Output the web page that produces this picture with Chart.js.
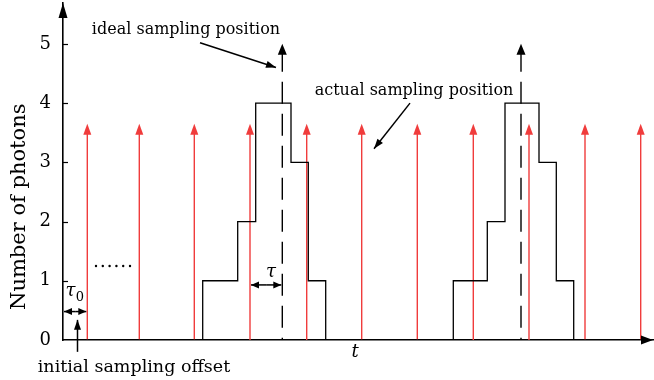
<!DOCTYPE html>
<html>
<head>
<meta charset="utf-8">
<script src="https://cdn.jsdelivr.net/npm/chart.js@4/dist/chart.umd.min.js"></script>
<style>
  html, body { margin: 0; padding: 0; background: #fff; }
</style>
</head>
<body>
<canvas id="myChart" width="654" height="380"></canvas>
<script>
// photon count steps: time of each edge and the level after it
var stepEdges = [13.97, 17.47, 19.27, 22.8, 24.53, 26.27, 39.03, 42.43, 44.2, 47.6, 49.33, 51.07];
var stepLevels = [1, 2, 4, 3, 1, 0, 1, 2, 4, 3, 1, 0];

// actual sampling positions (red arrows)
var sampleTimes = [2.43, 7.63, 13.13, 18.7, 24.37, 29.87, 35.43, 41.03, 46.6, 52.2, 57.77];
var sampleTop = 3.65;

// ideal sampling positions (dashed arrows)
var idealTimes = [21.93, 45.8];
var idealTop = 5;

var yTicks = [0, 1, 2, 3, 4, 5];
var tMax = 59;
var yMax = 5.69;

var SERIF = "'DejaVu Serif', serif";
var RED = 'rgb(240, 60, 60)';

var stepData = [{ x: 0, y: 0 }];
stepEdges.forEach(function (e, i) { stepData.push({ x: e, y: stepLevels[i] }); });
stepData.push({ x: tMax, y: 0 });

var datasets = [{
    label: 'photons',
    data: stepData,
    stepped: 'before',
    borderColor: '#000',
    borderWidth: 1.3,
    pointRadius: 0,
    fill: false
}];
sampleTimes.forEach(function (t) {
    datasets.push({
        data: [{ x: t, y: 0 }, { x: t, y: sampleTop - 0.1 }],
        borderColor: RED,
        borderWidth: 1.4,
        pointRadius: 0
    });
});
idealTimes.forEach(function (t) {
    datasets.push({
        data: [{ x: t, y: idealTop - 0.1 }, { x: t, y: 0 }],
        borderColor: '#000',
        borderWidth: 1.4,
        borderDash: [22, 10],
        pointRadius: 0
    });
});

function head(ctx, x, y, dx, dy, len, hw, color) {
    var n = Math.sqrt(dx * dx + dy * dy);
    dx /= n; dy /= n;
    ctx.beginPath();
    ctx.moveTo(x, y);
    ctx.lineTo(x - dx * len - dy * hw, y - dy * len + dx * hw);
    ctx.lineTo(x - dx * len + dy * hw, y - dy * len - dx * hw);
    ctx.closePath();
    ctx.fillStyle = color;
    ctx.fill();
}

function arrow(ctx, x1, y1, x2, y2, len, hw) {
    ctx.beginPath();
    ctx.moveTo(x1, y1);
    ctx.lineTo(x2, y2);
    ctx.strokeStyle = '#000';
    ctx.lineWidth = 1.5;
    ctx.stroke();
    head(ctx, x2, y2, x2 - x1, y2 - y1, len, hw, '#000');
}

var decor = {
    id: 'decor',
    afterDatasetsDraw: function (chart) {
        var ctx = chart.ctx, xs = chart.scales.x, ys = chart.scales.y, a = chart.chartArea;
        var px = function (v) { return xs.getPixelForValue(v); };
        var py = function (v) { return ys.getPixelForValue(v); };
        ctx.save();

        // arrow heads of sampling marks
        sampleTimes.forEach(function (t) { head(ctx, px(t), py(sampleTop), 0, -1, 11, 4, RED); });
        idealTimes.forEach(function (t) { head(ctx, px(t), py(idealTop), 0, -1, 11, 4.5, '#000'); });

        // axis arrows and inner ticks
        head(ctx, a.left, a.top, 0, -1, 15, 4.5, '#000');
        head(ctx, a.right, a.bottom, 1, 0, 12, 4.5, '#000');
        ctx.strokeStyle = '#000';
        ctx.lineWidth = 1.2;
        yTicks.slice(1).forEach(function (v) {
            ctx.beginPath();
            ctx.moveTo(a.left, Math.round(py(v)) + 0.5);
            ctx.lineTo(a.left + 5, Math.round(py(v)) + 0.5);
            ctx.stroke();
        });

        // texts
        ctx.fillStyle = '#000';
        ctx.textAlign = 'center';
        ctx.textBaseline = 'middle';
        ctx.font = '16px ' + SERIF;
        ctx.fillText('ideal sampling position', px(12.3), py(5.24));
        ctx.fillText('actual sampling position', px(35.1), py(4.2));
        ctx.font = '17.5px ' + SERIF;
        ctx.fillText('initial sampling offset', px(7.1), py(-0.47));
        ctx.font = 'italic 18px ' + SERIF;
        ctx.fillText('t', px(29.2), py(-0.2));
        ctx.fillText('\u03c4', px(20.8), py(1.15));
        ctx.fillText('\u03c4', px(0.75), py(0.82));
        ctx.font = '13px ' + SERIF;
        ctx.fillText('0', px(1.7), py(0.72));

        ctx.save();
        ctx.translate(20, py(2.25));
        ctx.rotate(-Math.PI / 2);
        ctx.font = '21px ' + SERIF;
        ctx.fillText('Number of photons', 0, 0);
        ctx.restore();

        // dots
        for (var i = 0; i < 6; i++) {
            ctx.beginPath();
            ctx.arc(px(3.3 + i * 0.68), py(1.25), 1.2, 0, Math.PI * 2);
            ctx.fill();
        }

        // pointer arrows
        arrow(ctx, px(13.7), py(5.02), px(21.3), py(4.6), 10, 3.5);
        arrow(ctx, px(34.7), py(4.0), px(31.1), py(3.23), 10, 3.5);
        arrow(ctx, px(1.45), py(-0.2), px(1.45), py(0.34), 10, 3.5);

        // tau spans
        var y0 = py(0.48);
        arrow(ctx, (px(0) + px(sampleTimes[0])) / 2, y0, px(0) + 1, y0, 8, 3.5);
        arrow(ctx, (px(0) + px(sampleTimes[0])) / 2, y0, px(sampleTimes[0]) - 1, y0, 8, 3.5);
        var y1 = py(0.93), mid = (px(sampleTimes[3]) + px(idealTimes[0])) / 2;
        arrow(ctx, mid, y1, px(sampleTimes[3]) + 1, y1, 8, 3.5);
        arrow(ctx, mid, y1, px(idealTimes[0]) - 1, y1, 8, 3.5);

        ctx.restore();
    }
};

var ctx = document.getElementById('myChart').getContext('2d');
var chart = new Chart(ctx, {
    type: 'line',
    data: { datasets: datasets },
    options: {
        responsive: false,
        animation: false,
        layout: { padding: { top: 3, right: 1, left: 0, bottom: 0 } },
        plugins: { legend: { display: false }, tooltip: { enabled: false } },
        scales: {
            x: {
                type: 'linear',
                min: 0,
                max: tMax,
                grid: { display: false, drawTicks: false },
                border: { display: true, color: '#000', width: 1.6 },
                ticks: { display: false },
                afterFit: function (s) { s.height = 40; s.paddingLeft = 0; s.paddingRight = 0; }
            },
            y: {
                type: 'linear',
                min: 0,
                max: yMax,
                afterBuildTicks: function (s) { s.ticks = yTicks.map(function (v) { return { value: v }; }); },
                grid: { display: false, drawTicks: false },
                border: { display: true, color: '#000', width: 1.6 },
                ticks: { padding: 12, color: '#000', font: { family: SERIF, size: 18 } },
                afterFit: function (s) { s.width = 63; s.paddingTop = 0; s.paddingBottom = 0; }
            }
        }
    },
    plugins: [decor]
});
</script>
</body>
</html>
